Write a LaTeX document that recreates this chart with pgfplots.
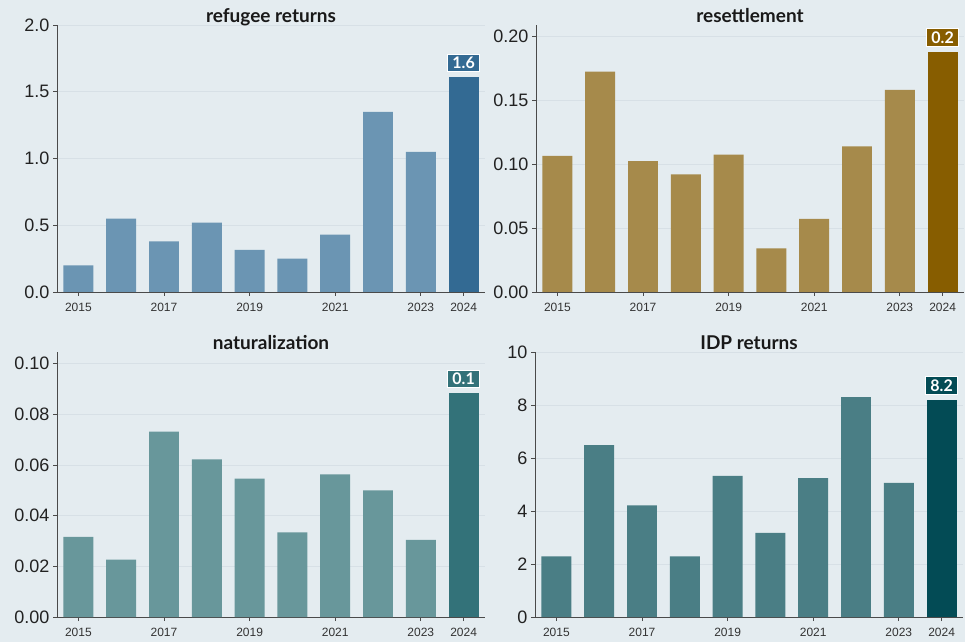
\documentclass[border=0pt]{standalone}
\usepackage{fontspec}
\usepackage{pgfplots}
\pgfplotsset{compat=1.18}
\setmainfont{Liberation Sans}
\newfontfamily\titlefont{Lato}

\definecolor{bgc}{HTML}{E4ECF0}
\definecolor{gridc}{HTML}{D7E0E6}
\definecolor{axisc}{HTML}{4A4A4A}
\definecolor{tickc}{HTML}{333333}
\definecolor{ytickc}{HTML}{222222}
\definecolor{refc}{HTML}{6B95B3}
\definecolor{refh}{HTML}{336A93}
\definecolor{resc}{HTML}{A68A4B}
\definecolor{resh}{HTML}{875D00}
\definecolor{natc}{HTML}{68979B}
\definecolor{nath}{HTML}{337279}
\definecolor{idpc}{HTML}{4A7E85}
\definecolor{idph}{HTML}{034B55}

\pgfplotsset{
  panel/.style={
    scale only axis, width=428pt,
    ybar, bar width=0.7, bar shift=0pt,
    xmin=-0.5, xmax=9.5, ymin=0, enlargelimits=false,
    axis x line=bottom, axis y line=left,
    axis line style={-, draw=axisc, line width=0.9pt},
    xtick={0,2,4,6,8,9}, xticklabels={2015,2017,2019,2021,2023,2024},
    x tick label style={font=\fontsize{12}{12}\selectfont, text=tickc, yshift=-4pt},
    y tick label style={font=\fontsize{18}{18}\selectfont, text=ytickc},
    tick style={draw=axisc, line width=0.8pt},
    tick align=outside, major tick length=4pt,
    ymajorgrids, grid style={draw=gridc, line width=0.7pt},
    title style={font=\titlefont\bfseries\fontsize{19}{19}\selectfont, text=black!90,
      anchor=base, at={(0.5,1)}, yshift=-4pt},
    /pgf/number format/assume math mode=true,
  },
  hl/.style={
    draw=none, fill=#1,
    nodes near coords={\pgfmathprintnumber[fixed,precision=1,zerofill]{\pgfplotspointmeta}},
    every node near coord/.append style={fill=#1, draw=white, line width=0.7pt,
      text=white, font=\titlefont\bfseries\fontsize{16}{16}\selectfont,
      inner xsep=5pt, inner ysep=3pt, anchor=south, yshift=5pt},
  },
}

\begin{document}
\begin{tikzpicture}
\useasboundingbox (0pt,0pt) rectangle (965pt,642pt);
\fill[bgc] (0pt,0pt) rectangle (965pt,642pt);

% refugee returns
\begin{axis}[panel, at={(57pt,350pt)}, anchor=south west, height=267pt,
  ymax=2.0, ytick={0,0.5,1,1.5,2},
  yticklabel style={/pgf/number format/.cd, fixed, fixed zerofill, precision=1},
  title={refugee returns}]
\addplot[draw=none, fill=refc] coordinates {
  (0,0.20) (1,0.55) (2,0.38) (3,0.52) (4,0.315) (5,0.25) (6,0.43) (7,1.35) (8,1.05)};
\addplot[hl=refh] coordinates {(9,1.61)};
\end{axis}

% resettlement
\begin{axis}[panel, at={(536pt,350pt)}, anchor=south west, height=267pt,
  ymax=0.209, ytick={0,0.05,0.1,0.15,0.2},
  yticklabel style={/pgf/number format/.cd, fixed, fixed zerofill, precision=2},
  title={resettlement}]
\addplot[draw=none, fill=resc] coordinates {
  (0,0.1066) (1,0.1724) (2,0.1024) (3,0.0921) (4,0.1076) (5,0.0341) (6,0.0572) (7,0.1139) (8,0.1583)};
\addplot[hl=resh] coordinates {(9,0.1882)};
\end{axis}

% naturalization
\begin{axis}[panel, at={(57pt,25pt)}, anchor=south west, height=265pt,
  ymax=0.1046, ytick={0,0.02,0.04,0.06,0.08,0.1},
  yticklabel style={/pgf/number format/.cd, fixed, fixed zerofill, precision=2},
  title={naturalization}]
\addplot[draw=none, fill=natc] coordinates {
  (0,0.0316) (1,0.0226) (2,0.0732) (3,0.0622) (4,0.0546) (5,0.0334) (6,0.0563) (7,0.0500) (8,0.0304)};
\addplot[hl=nath] coordinates {(9,0.0884)};
\end{axis}

% IDP returns
\begin{axis}[panel, at={(535pt,25pt)}, anchor=south west, height=265pt,
  ymax=10, ytick={0,2,4,6,8,10},
  title={IDP returns}]
\addplot[draw=none, fill=idpc] coordinates {
  (0,2.29) (1,6.49) (2,4.21) (3,2.29) (4,5.33) (5,3.17) (6,5.24) (7,8.30) (8,5.06)};
\addplot[hl=idph] coordinates {(9,8.20)};
\end{axis}
\end{tikzpicture}
\end{document}
